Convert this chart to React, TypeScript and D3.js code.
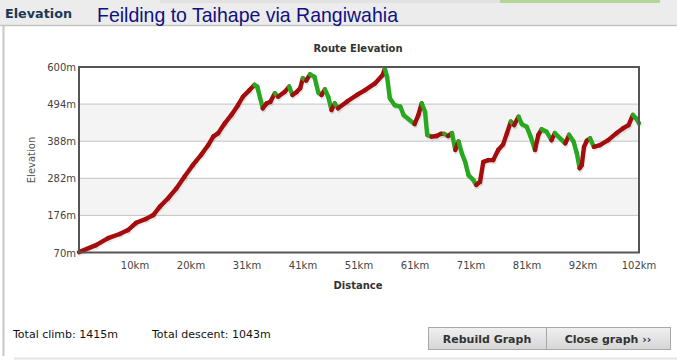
import React, { useEffect, useRef } from "react";
import * as d3 from "d3";

// route profile (km, m)
const distances = [
  0, 3.1, 5.3, 7.4, 8.9, 10.4, 12.2, 13.5, 14.7, 16.2, 17.7, 19.2, 20.7, 22.2, 23.5, 24.4, 25.3, 26.5, 27.7, 28.9,
  29.8, 31.0, 31.9, 32.4, 33.4, 34.1, 34.8, 35.6, 36.2, 37.4, 38.2, 38.8, 39.6, 40.2, 40.7, 41.3, 42.0, 42.8, 43.5,
  44.1, 44.7, 45.3, 45.9, 46.5, 47.1, 48.7, 50.5, 52.0, 53.8, 55.2, 55.6, 56.0, 56.5, 57.4, 58.4, 59.0, 59.9, 61.0,
  61.7, 62.3, 62.9, 63.3, 64.1, 65.0, 65.8, 66.4, 67.1, 67.8, 68.4, 69.0, 69.6, 70.2, 70.8, 71.7, 72.2, 72.9, 73.5,
  74.4, 75.3, 76.2, 77.1, 77.8, 78.5, 79.1, 79.9, 80.5, 81.4, 82.1, 82.9, 83.5, 84.1, 85.0, 85.9, 86.5, 87.8, 88.4,
  89.1, 89.9, 90.5, 91.0, 91.4, 91.8, 92.3, 92.9, 93.6, 94.7, 96.2, 97.7, 98.9, 99.9, 100.7, 101.3, 101.8,
];
const elevations = [
  71, 91, 111, 123, 134, 155, 166, 177, 201, 225, 253, 287, 320, 349, 377, 401, 411, 439, 463, 491,
  515, 534, 549, 544, 482, 496, 501, 525, 515, 529, 544, 520, 529, 539, 568, 561, 579, 572, 527,
  520, 536, 515, 477, 496, 482, 501, 520, 534, 553, 577, 595, 572, 511, 491, 487, 463, 451, 437,
  463, 496, 472, 406, 401, 403, 409, 409, 403, 411, 363, 387, 353, 329, 291, 277, 263, 272, 329,
  334, 334, 363, 379, 411, 444, 434, 458, 437, 429, 401, 363, 406, 422, 415, 391, 411, 391, 382,
  406, 387, 353, 311, 320, 372, 389, 396, 372, 377, 391, 411, 425, 434, 463, 453, 439,
];

const yTicks = [70, 176, 282, 388, 494, 600];
const xTickValues = [10.18, 20.36, 30.54, 40.72, 50.9, 61.08, 71.26, 81.44, 91.62, 101.8];
const xTickLabels = ["10km", "20km", "31km", "41km", "51km", "61km", "71km", "81km", "92km", "102km"];

const totalClimb = 1415;
const totalDescent = 1043;

const W = 677;
const H = 361;
const plot = { left: 79, right: 639, top: 67, bottom: 252.5 };

export default function App() {
  const ref = useRef<SVGSVGElement>(null);

  useEffect(() => {
    const svg = d3.select(ref.current);
    svg.selectAll("*").remove();

    const x = d3.scaleLinear().domain([0, 101.8]).range([plot.left, plot.right]);
    const y = d3.scaleLinear().domain([70, 600]).range([plot.bottom, plot.top]);

    // outer frame
    svg.append("rect").attr("width", W).attr("height", H).attr("fill", "#ffffff");
    svg.append("rect").attr("x", 0).attr("y", 0).attr("width", W).attr("height", 25).attr("fill", "#ececec");
    svg.append("rect").attr("x", 160).attr("y", 0).attr("width", 340).attr("height", 3).attr("fill", "#e2e2e2");
    svg.append("rect").attr("x", 500).attr("y", 0).attr("width", 160).attr("height", 3).attr("fill", "#b5d49a");
    svg.append("line").attr("x1", 0).attr("x2", W).attr("y1", 25.5).attr("y2", 25.5)
      .attr("stroke", "#c4c4c4").attr("stroke-width", 1.5);
    svg.append("line").attr("x1", 3.5).attr("x2", 3.5).attr("y1", 26).attr("y2", 356)
      .attr("stroke", "#c8c8c8").attr("stroke-width", 2);
    svg.append("line").attr("x1", 14).attr("x2", W).attr("y1", 358.5).attr("y2", 358.5)
      .attr("stroke", "#e4e4e4").attr("stroke-width", 2);

    svg.append("text").attr("x", 5).attr("y", 18).text("Elevation")
      .attr("font-family", "Verdana, 'DejaVu Sans', sans-serif").attr("font-size", 12.5)
      .attr("font-weight", "bold").attr("fill", "#1b3857")
      .attr("textLength", 67).attr("lengthAdjust", "spacingAndGlyphs");
    svg.append("text").attr("x", 97).attr("y", 22).text("Feilding to Taihape via Rangiwahia")
      .attr("font-family", "'Liberation Sans Narrow', 'Arial Narrow', 'Liberation Sans', Arial, sans-serif")
      .attr("font-size", 21).attr("fill", "#10107f")
      .attr("textLength", 301).attr("lengthAdjust", "spacingAndGlyphs");

    // bands and gridlines
    const g = svg.append("g");
    [[388, 494], [176, 282]].forEach(([a, b]) => {
      g.append("rect").attr("x", plot.left).attr("width", plot.right - plot.left)
        .attr("y", y(b)).attr("height", y(a) - y(b)).attr("fill", "#f4f4f4");
    });
    g.selectAll("line.grid").data(yTicks.slice(1, -1)).enter().append("line")
      .attr("class", "grid")
      .attr("x1", plot.left).attr("x2", plot.right)
      .attr("y1", (d) => y(d)).attr("y2", (d) => y(d))
      .attr("stroke", "#c4c4c4").attr("stroke-width", 1);

    const font = "Verdana, 'DejaVu Sans', sans-serif";

    // y axis labels
    g.selectAll("text.ytick").data(yTicks).enter().append("text")
      .attr("class", "ytick")
      .attr("x", plot.left - 3).attr("y", (d) => y(d) + 4)
      .attr("text-anchor", "end").attr("font-family", font).attr("font-size", 10)
      .attr("fill", "#444").text((d) => d + "m");

    // x axis labels
    g.selectAll("text.xtick").data(xTickValues).enter().append("text")
      .attr("class", "xtick")
      .attr("x", (d) => x(d)).attr("y", 269)
      .attr("text-anchor", "middle").attr("font-family", font).attr("font-size", 10)
      .attr("fill", "#444").text((d, i) => xTickLabels[i]);

    svg.append("text").attr("x", 358).attr("y", 52).attr("text-anchor", "middle")
      .attr("font-family", font).attr("font-size", 10).attr("font-weight", "bold")
      .attr("fill", "#333").text("Route Elevation");
    svg.append("text").attr("x", 358).attr("y", 289).attr("text-anchor", "middle")
      .attr("font-family", font).attr("font-size", 10).attr("font-weight", "bold")
      .attr("fill", "#333").text("Distance");
    svg.append("text").attr("transform", "translate(35,160) rotate(-90)")
      .attr("text-anchor", "middle").attr("font-family", font).attr("font-size", 10)
      .attr("fill", "#555").text("Elevation");

    // profile line, coloured per segment: climbing red, descending green
    const pts = distances.map((d, i) => [d, elevations[i]]);
    const segs = d3.pairs(pts);
    const lg = svg.append("g").attr("stroke-linecap", "round");
    lg.selectAll("line.shadow").data(segs).enter().append("line")
      .attr("class", "shadow")
      .attr("x1", (s) => x(s[0][0]) + 1).attr("y1", (s) => y(s[0][1]) + 2)
      .attr("x2", (s) => x(s[1][0]) + 1).attr("y2", (s) => y(s[1][1]) + 2)
      .attr("stroke", "#000").attr("stroke-opacity", 0.06).attr("stroke-width", 4.5);
    lg.selectAll("line.seg").data(segs).enter().append("line")
      .attr("class", "seg")
      .attr("x1", (s) => x(s[0][0])).attr("y1", (s) => y(s[0][1]))
      .attr("x2", (s) => x(s[1][0])).attr("y2", (s) => y(s[1][1]))
      .attr("stroke", (s) => (s[1][1] >= s[0][1] ? "#a30d0d" : "#27a81f"))
      .attr("stroke-width", 4.4);

    // plot frame
    svg.append("rect").attr("x", plot.left).attr("y", plot.top)
      .attr("width", plot.right - plot.left).attr("height", plot.bottom - plot.top)
      .attr("fill", "none").attr("stroke", "#555").attr("stroke-width", 2);

    // totals
    const tfont = "Tahoma, 'DejaVu Sans', sans-serif";
    svg.append("text").attr("x", 13).attr("y", 338).attr("font-family", tfont).attr("font-size", 11)
      .attr("fill", "#111").text(`Total climb: ${totalClimb}m`);
    svg.append("text").attr("x", 152).attr("y", 338).attr("font-family", tfont).attr("font-size", 11)
      .attr("fill", "#111").text(`Total descent: ${totalDescent}m`);

    // buttons
    const defs = svg.append("defs");
    const grad = defs.append("linearGradient").attr("id", "btn").attr("x1", 0).attr("y1", 0).attr("x2", 0).attr("y2", 1);
    grad.append("stop").attr("offset", "0%").attr("stop-color", "#f0f0f0");
    grad.append("stop").attr("offset", "100%").attr("stop-color", "#d6d6d6");
    const buttons = [
      { x: 428, w: 118, label: "Rebuild Graph" },
      { x: 546, w: 124, label: "Close graph \u203a\u203a" },
    ];
    buttons.forEach((b) => {
      svg.append("rect").attr("x", b.x + 0.5).attr("y", 327.5).attr("width", b.w).attr("height", 22)
        .attr("fill", "url(#btn)").attr("stroke", "#a8a8a8");
      svg.append("text").attr("x", b.x + b.w / 2).attr("y", 342.5).attr("text-anchor", "middle")
        .attr("font-family", tfont).attr("font-size", 11).attr("font-weight", "bold")
        .attr("fill", "#333").text(b.label);
    });
  }, []);

  return (
    <svg ref={ref} width={W} height={H} style={{ position: "absolute", left: 0, top: 0 }}></svg>
  );
}
